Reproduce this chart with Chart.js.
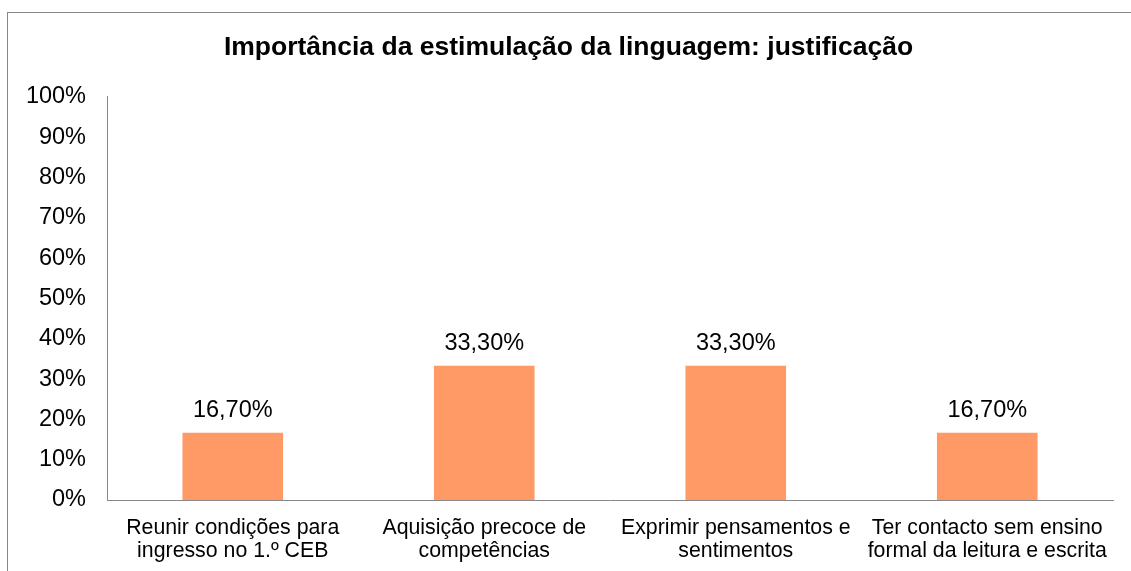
<!DOCTYPE html>
<html>
<head>
<meta charset="utf-8">
<script src="https://cdn.jsdelivr.net/npm/chart.js@4"></script>
<style>
  html, body { margin: 0; padding: 0; background: #fff; }
  #wrap { position: relative; width: 1131px; height: 571px; overflow: hidden; }
  #frame { position: absolute; left: 7px; top: 12px; width: 1200px; height: 600px;
           border-left: 1px solid #888; border-top: 1px solid #888; }
  canvas { position: absolute; left: 0; top: 0; }
</style>
</head>
<body>
<div id="wrap">
  <div id="frame"></div>
  <canvas id="chart" width="1131" height="571"></canvas>
</div>
<script>
  const categories = [
    ['Reunir condições para', 'ingresso no 1.º CEB'],
    ['Aquisição precoce de', 'competências'],
    ['Exprimir pensamentos e', 'sentimentos'],
    ['Ter contacto sem ensino', 'formal da leitura e escrita']
  ];
  const values = [16.7, 33.3, 33.3, 16.7];
  const yTicks = [0, 10, 20, 30, 40, 50, 60, 70, 80, 90, 100];

  const fontFamily = '"Liberation Sans", Arial, sans-serif';
  const formatPct = (v) => v.toFixed(2).replace('.', ',') + '%';

  const valueLabels = {
    id: 'valueLabels',
    afterDatasetsDraw(chart) {
      const { ctx } = chart;
      const meta = chart.getDatasetMeta(0);
      ctx.save();
      ctx.font = '23.5px ' + fontFamily;
      ctx.fillStyle = '#000';
      ctx.textAlign = 'center';
      ctx.textBaseline = 'middle';
      meta.data.forEach((bar, i) => {
        ctx.fillText(formatPct(values[i]), bar.x, bar.y - 22);
      });
      ctx.restore();
    }
  };

  new Chart(document.getElementById('chart'), {
    type: 'bar',
    data: {
      labels: categories,
      datasets: [{
        data: values,
        backgroundColor: '#FF9966',
        borderWidth: 0,
        barPercentage: 0.4,
        categoryPercentage: 1
      }]
    },
    options: {
      responsive: false,
      animation: false,
      layout: { padding: { left: 24, right: 18, top: 0, bottom: 0 } },
      plugins: {
        legend: { display: false },
        tooltip: { enabled: false },
        title: {
          display: true,
          text: 'Importância da estimulação da linguagem: justificação',
          color: '#000',
          font: { family: fontFamily, size: 26.5, weight: 'bold', lineHeight: 1.2 },
          padding: { top: 32, bottom: 33 }
        }
      },
      scales: {
        x: {
          grid: { display: false, drawTicks: false },
          border: { color: '#888', width: 1 },
          ticks: {
            color: '#000',
            padding: 16,
            maxRotation: 0,
            autoSkip: false,
            font: { family: fontFamily, size: 21.3, lineHeight: 1.1 }
          },
          afterFit: (scale) => { scale.height = 71; }
        },
        y: {
          min: 0,
          max: 100,
          grid: { display: false, drawTicks: false },
          border: { color: '#888', width: 1 },
          afterBuildTicks: (scale) => { scale.ticks = yTicks.map((v) => ({ value: v })); },
          ticks: {
            color: '#000',
            padding: 21,
            font: { family: fontFamily, size: 23.5 },
            callback: (v) => v + '%'
          },
          afterFit: (scale) => { scale.width = 83; }
        }
      }
    },
    plugins: [valueLabels]
  });
</script>
</body>
</html>
